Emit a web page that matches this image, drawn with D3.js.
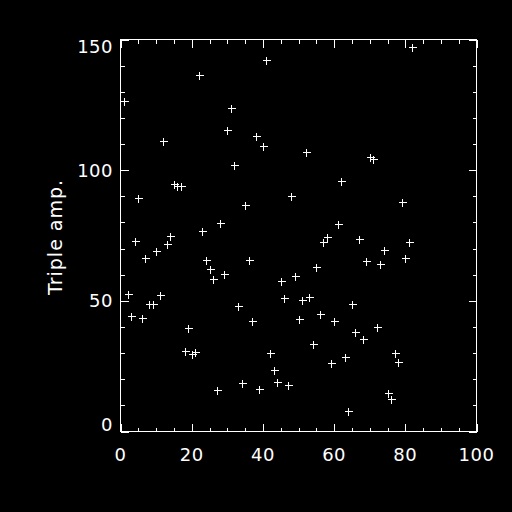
<!DOCTYPE html>
<html>
<head>
<meta charset="utf-8">
<script src="https://cdn.jsdelivr.net/npm/d3@7"></script>
<style>
  body { margin: 0; background: #000; }
  svg { display: block; }
  text { font-family: "DejaVu Sans", sans-serif; fill: #fff; }
</style>
</head>
<body>
<script>
/////////////////////////////////////////////////
// data
/////////////////////////////////////////////////
var xIndex = d3.range(1, 83);   // sample index 1..82
var tripleAmp = [
  126.5, 52.7, 44.3, 73.0, 89.4, 43.5, 66.5, 48.9, 48.9, 68.9,
  52.3, 111.0, 71.6, 75.0, 94.8, 93.8, 93.8, 30.9, 39.7, 29.7,
  30.5, 136.5, 76.8, 65.7, 62.3, 58.4, 16.0, 79.9, 60.4, 115.5,
  123.6, 101.8, 48.2, 18.7, 86.8, 65.7, 42.4, 113.2, 16.3, 109.3,
  142.2, 30.1, 23.6, 19.0, 57.7, 50.9, 17.9, 90.2, 59.6, 43.1,
  50.5, 107.0, 51.5, 33.6, 63.0, 45.0, 72.7, 74.5, 26.3, 42.4,
  79.5, 95.9, 28.6, 7.9, 48.9, 38.2, 73.7, 35.5, 65.1, 105.2,
  104.4, 39.8, 64.2, 69.5, 14.9, 12.5, 30.1, 26.7, 87.9, 66.2,
  72.7, 147.2
];
var xTicks = [0, 20, 40, 60, 80, 100];
var yTicks = [0, 50, 100, 150];
var yTitle = "Triple amp.";

/////////////////////////////////////////////////
// locals
/////////////////////////////////////////////////
var width  = 512,
    height = 512;
var pLeft = 120.5, pRight = 476.5, pTop = 39.5, pBottom = 431.5;

var svg = d3.select("body").append("svg")
    .attr("width", width)
    .attr("height", height);

svg.append("rect")
  .attr("width", width).attr("height", height)
  .attr("fill", "#000");

var x = d3.scaleLinear().domain([0, 100]).range([pLeft, pRight]);
var y = d3.scaleLinear().domain([0, 150]).range([pBottom, pTop]);

// draw ticks (major + minor) on all four sides, pointing inward
function ticks(axisFn, scale, values, len, tr) {
  var g = svg.append("g")
    .attr("transform", tr)
    .call(axisFn(scale).tickValues(values).tickSize(len).tickSizeOuter(0).tickFormat(""));
  g.select(".domain").remove();
  g.selectAll("line").attr("stroke", "#fff").attr("shape-rendering", "crispEdges");
}
var xMinor = d3.range(0, 101, 5), yMinor = d3.range(0, 151, 10);

ticks(d3.axisBottom, x, xMinor, -4, "translate(0," + pBottom + ")");
ticks(d3.axisBottom, x, xTicks, -8, "translate(0," + pBottom + ")");
ticks(d3.axisTop, x, xMinor, -4, "translate(0," + pTop + ")");
ticks(d3.axisTop, x, xTicks, -8, "translate(0," + pTop + ")");
ticks(d3.axisLeft, y, yMinor, -4, "translate(" + pLeft + ",0)");
ticks(d3.axisLeft, y, yTicks, -8, "translate(" + pLeft + ",0)");
ticks(d3.axisRight, y, yMinor, -4, "translate(" + pRight + ",0)");
ticks(d3.axisRight, y, yTicks, -8, "translate(" + pRight + ",0)");

// box
svg.append("rect")
  .attr("x", pLeft).attr("y", pTop)
  .attr("width", pRight - pLeft).attr("height", pBottom - pTop)
  .attr("fill", "none").attr("stroke", "#fff")
  .attr("shape-rendering", "crispEdges");

// tick labels
svg.selectAll(".xl").data(xTicks).enter().append("text")
  .attr("x", function(d) { return x(d); })
  .attr("y", 461)
  .attr("text-anchor", "middle")
  .attr("font-size", 18)
  .attr("letter-spacing", 0.5)
  .text(function(d) { return d; });

svg.selectAll(".yl").data(yTicks).enter().append("text")
  .attr("x", 113)
  .attr("y", function(d) {
    var c = Math.min(Math.max(y(d), pTop + 7), pBottom - 7);
    return c + 6.5;
  })
  .attr("text-anchor", "end")
  .attr("font-size", 18)
  .attr("letter-spacing", 0.5)
  .text(function(d) { return d; });

svg.append("text")
  .attr("transform", "translate(62,237) rotate(-90)")
  .attr("text-anchor", "middle")
  .attr("font-size", 19)
  .attr("letter-spacing", 1)
  .text(yTitle);

// points as plus signs
svg.selectAll(".pt").data(xIndex).enter().append("path")
  .attr("d", function(d, i) {
    var px = Math.round(x(d)) + 0.5, py = Math.round(y(tripleAmp[i])) + 0.5;
    return "M" + (px - 4) + "," + py + "H" + (px + 4) +
           "M" + px + "," + (py - 4) + "V" + (py + 4);
  })
  .attr("stroke", "#fff")
  .attr("fill", "none")
  .attr("shape-rendering", "crispEdges");
</script>
</body>
</html>
